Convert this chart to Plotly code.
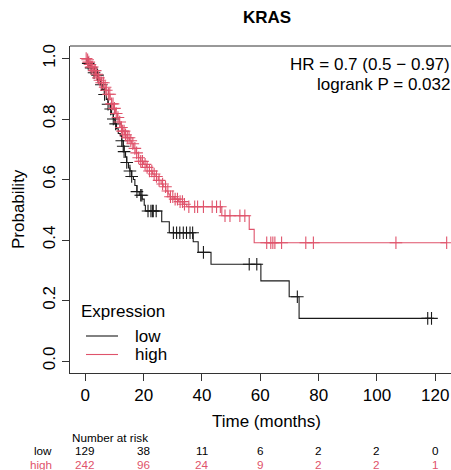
import numpy as np
import plotly.graph_objects as go

# ---------------- data ----------------
title_text = "KRAS"
group_names = ["low", "high"]
group_colors = ["#1a1a1a", "#DF536B"]

# Kaplan-Meier step vertices: time (months), survival after the step
low_time = [0, 0.5, 1.0, 1.5, 2.0, 3.0, 3.7, 4.5, 5.2, 5.8, 6.5, 7.2, 7.8, 8.5, 9.0, 9.6,
            10.1, 10.7, 11.3, 12.0, 12.5, 13.0, 13.3, 13.8, 14.2, 14.8, 15.3, 15.9, 16.5,
            17.0, 17.7, 18.5, 19.5, 20.2, 20.6, 26.2, 28.8, 37.0, 38.7, 43.1, 60.2, 69.9,
            73.3, 118.7]
low_surv = [1.0, 0.992, 0.984, 0.977, 0.969, 0.953, 0.945, 0.929, 0.913, 0.897, 0.881, 0.865,
            0.849, 0.833, 0.817, 0.800, 0.784, 0.768, 0.752, 0.744, 0.728, 0.710, 0.692, 0.674,
            0.656, 0.638, 0.628, 0.610, 0.600, 0.580, 0.560, 0.548, 0.535, 0.515, 0.496, 0.4605,
            0.424, 0.394, 0.359, 0.3197, 0.265, 0.2126, 0.141, 0.141]
low_censor = [1.0, 2.0, 3.0, 4.2, 5.5, 6.6, 7.8, 8.7, 9.6, 10.4, 12.5, 13.0, 13.3, 14.2, 15.3,
              15.9, 17.7, 19.0, 19.4, 21.5, 22.5, 23.0, 23.3, 24.3, 30.2, 31.3, 32.4, 33.6,
              34.7, 35.9, 36.8, 40.5, 56.2, 58.8, 72.7, 117.4, 118.7]

high_time = [0, 0.5, 1.0, 1.5, 2.0, 2.8, 3.5, 4.3, 5.0, 5.6, 6.3, 7.0, 7.9, 8.5, 9.0, 9.6,
             10.3, 11.0, 11.6, 12.2, 12.8, 13.5, 14.3, 15.1, 15.9, 16.6, 17.4, 18.2, 19.0,
             20.0, 21.0, 22.0, 23.0, 23.9, 25.0, 26.0, 26.7, 27.6, 28.4, 29.0, 30.5, 32.0,
             33.5, 34.8, 46.8, 56.2, 57.9, 123.9]
high_surv = [1.0, 0.996, 0.988, 0.980, 0.972, 0.960, 0.948, 0.936, 0.928, 0.920, 0.905, 0.895,
             0.882, 0.865, 0.850, 0.835, 0.818, 0.805, 0.790, 0.772, 0.760, 0.748, 0.738, 0.728,
             0.718, 0.703, 0.688, 0.672, 0.660, 0.650, 0.640, 0.628, 0.618, 0.610, 0.597, 0.585,
             0.576, 0.562, 0.552, 0.543, 0.535, 0.527, 0.518, 0.510, 0.480, 0.435, 0.391, 0.391]
high_censor = [0.3, 0.8, 1.2, 1.6, 2.0, 2.4, 3.0, 3.4, 3.9, 4.5, 5.0, 5.6, 6.2, 6.8, 7.2, 7.9,
               8.4, 9.0, 9.5, 10.0, 10.6, 11.2, 11.8, 12.4, 12.8, 13.3, 13.8, 14.4, 15.0, 15.6,
               16.3, 17.0, 17.6, 18.3, 19.0, 19.6, 20.5, 21.2, 22.0, 22.8, 23.6, 24.4, 25.3,
               26.5, 27.5, 28.3, 29.2, 30.0, 30.8, 31.6, 32.5, 33.3, 34.0, 35.5, 37.5, 38.5,
               40.5, 43.5, 45.0, 46.3, 47.9, 49.6, 53.0, 54.7, 62.2, 63.6, 64.3, 65.0, 67.3,
               75.6, 78.2, 106.5, 123.9]

hr_lines = ["HR = 0.7 (0.5 \u2212 0.97)", "logrank P = 0.032"]

risk_times = [0, 20, 40, 60, 80, 100, 120]
risk_low = [129, 38, 11, 6, 2, 2, 0]
risk_high = [242, 96, 24, 9, 2, 2, 1]

x_ticks = [0, 20, 40, 60, 80, 100, 120]
y_ticks = [0.0, 0.2, 0.4, 0.6, 0.8, 1.0]

# ---------------- layout geometry (pixels) ----------------
W, H = 451, 470
L, T, B = 70, 46, 373          # plot box left, top, bottom (px)
R = W
FONT = "Liberation Sans, Arial, Helvetica, sans-serif"


def px(xp):
    return (xp - L) / (R - L)


def py(yp):
    return (B - yp) / (B - T)


def step_value(times, survs, t):
    idx = np.searchsorted(np.asarray(times), t, side="right") - 1
    return np.asarray(survs)[np.clip(idx, 0, len(survs) - 1)]


fig = go.Figure()
curves = [(low_time, low_surv, low_censor), (high_time, high_surv, high_censor)]
for (tt, ss, cc), name, col in zip(curves, group_names, group_colors):
    fig.add_trace(go.Scatter(x=tt, y=ss, mode="lines", line=dict(color=col, width=1.1, shape="hv"),
                             name=name, showlegend=False, hoverinfo="skip"))
    fig.add_trace(go.Scatter(x=cc, y=step_value(tt, ss, cc), mode="markers",
                             marker=dict(symbol="cross-thin", size=9,
                                         line=dict(color=col, width=1.1)),
                             showlegend=False, hoverinfo="skip"))

ann = []
ann.append(dict(text="<b>%s</b>" % title_text, x=px(267), y=py(18), xref="paper", yref="paper",
                showarrow=False, font=dict(size=17, color="black", family=FONT),
                xanchor="center", yanchor="middle"))
for i, line in enumerate(hr_lines):
    ann.append(dict(text=line, x=px(452), y=py(64 + i * 21), xref="paper", yref="paper",
                    showarrow=False, font=dict(size=17, color="black", family=FONT),
                    xanchor="right", yanchor="middle"))
ann.append(dict(text="Time (months)", x=px(266), y=py(421), xref="paper", yref="paper",
                showarrow=False, font=dict(size=17, color="black", family=FONT),
                xanchor="center", yanchor="middle"))
ann.append(dict(text="Probability", x=px(18), y=py(209), xref="paper", yref="paper",
                showarrow=False, textangle=-90, font=dict(size=17, color="black", family=FONT),
                xanchor="center", yanchor="middle"))
# legend
ann.append(dict(text="Expression", x=px(79), y=py(311), xref="paper", yref="paper",
                showarrow=False, font=dict(size=17, color="black", family=FONT),
                xanchor="left", yanchor="middle"))
shapes = []
for i, (name, col) in enumerate(zip(group_names, group_colors)):
    yy = 336 + i * 18.5
    shapes.append(dict(type="line", xref="paper", yref="paper", x0=px(86), x1=px(118),
                       y0=py(yy), y1=py(yy), line=dict(color=col, width=1.1)))
    ann.append(dict(text=name, x=px(133), y=py(yy), xref="paper", yref="paper",
                    showarrow=False, font=dict(size=17, color="black", family=FONT),
                    xanchor="left", yanchor="middle"))
# top border of the box
shapes.append(dict(type="line", xref="paper", yref="paper", x0=0, x1=1, y0=1, y1=1,
                   line=dict(color="#333333", width=1)))

# number at risk table
ann.append(dict(text="Number at risk", x=px(70), y=py(437), xref="paper", yref="paper",
                showarrow=False, font=dict(size=11.7, color="black", family=FONT),
                xanchor="left", yanchor="middle"))
for row, (name, col, vals) in enumerate(zip(group_names, group_colors, [risk_low, risk_high])):
    yy = 451 + row * 13.5
    ann.append(dict(text=name, x=px(54), y=py(yy), xref="paper", yref="paper",
                    showarrow=False, font=dict(size=11.7, color=col if row else "black", family=FONT),
                    xanchor="right", yanchor="middle"))
    for t, v in zip(risk_times, vals):
        ann.append(dict(text=str(v), x=t, y=py(yy), xref="x", yref="paper",
                        showarrow=False, font=dict(size=11.7, color=col if row else "black", family=FONT),
                        xanchor="center", yanchor="middle"))

x_per_px = 120 / 350.0
y_per_px = 1 / 302.5
fig.update_layout(
    width=W, height=H,
    margin=dict(l=L, r=W - R, t=T, b=H - B, pad=0),
    paper_bgcolor="white", plot_bgcolor="white",
    showlegend=False,
    annotations=ann, shapes=shapes,
    font=dict(family=FONT, size=17, color="black"),
    xaxis=dict(range=[-(85.3 - L) * x_per_px, (R - 85.3) * x_per_px],
               tickvals=x_ticks, ticktext=[str(v) for v in x_ticks],
               ticks="outside", ticklen=7, tickcolor="#333333", tickwidth=1,
               showline=True, linecolor="#333333", linewidth=1,
               showgrid=False, zeroline=False, tickfont=dict(size=17, family=FONT),
               fixedrange=True),
    yaxis=dict(range=[-(B - 361) * y_per_px, (361 - T) * y_per_px],
               tickvals=y_ticks, ticktext=["%.1f" % v for v in y_ticks],
               ticks="outside", ticklen=7, tickcolor="#333333", tickwidth=1, tickangle=-90,
               showline=True, linecolor="#333333", linewidth=1,
               showgrid=False, zeroline=False, tickfont=dict(size=17, family=FONT),
               fixedrange=True),
)

fig.write_html("out.html")
